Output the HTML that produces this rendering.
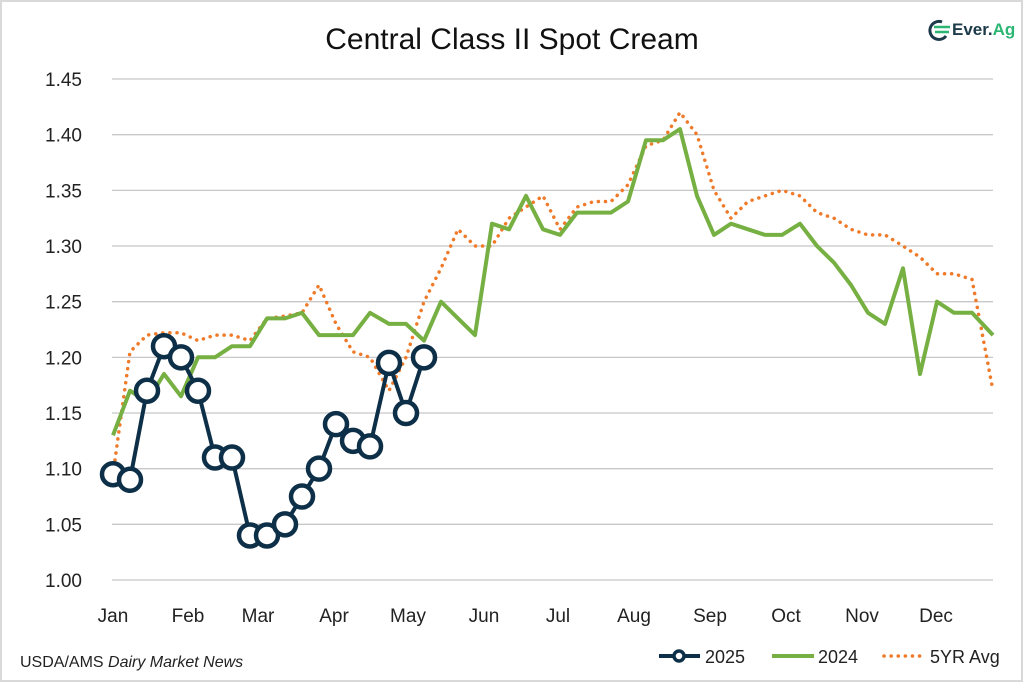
<!DOCTYPE html>
<html><head><meta charset="utf-8"><style>
html,body{margin:0;padding:0;background:#fff}
body{width:1024px;height:683px;overflow:hidden}
text{font-family:"Liberation Sans",sans-serif}
</style></head><body>
<svg id="s" width="1024" height="683" xmlns="http://www.w3.org/2000/svg">
<rect x="1" y="1" width="1021" height="680" fill="#fff" stroke="#d9d9d9" stroke-width="2"/>
<text x="512" y="49" text-anchor="middle" font-size="30" fill="#111">Central Class II Spot Cream</text>
<g>
<path d="M942 22 a9 9 0 1 0 4 14" fill="none" stroke="#1d3a4a" stroke-width="3"/>
<path d="M934 27 h16 M935 32 h14" stroke="#2bb673" stroke-width="2.5"/>
<text x="952" y="35" font-size="17" font-weight="bold" fill="#1d3a4a">Ever.<tspan fill="#2bb673">Ag</tspan></text>
</g>
<g id="grid" stroke="#c8c8c8" stroke-width="1.3"></g>
<g id="ylab" font-size="19" fill="#222" text-anchor="end"></g>
<g id="xlab" font-size="19" fill="#222" text-anchor="middle"></g>
<g id="series"></g>
<text x="20" y="667" font-size="16" fill="#222">USDA/AMS <tspan font-style="italic">Dairy Market News</tspan></text>
<g>
<line x1="659" y1="656" x2="700" y2="656" stroke="#0d3048" stroke-width="4"/>
<circle cx="679" cy="656" r="5" fill="#fff" stroke="#0d3048" stroke-width="3.5"/>
<text x="705" y="663" font-size="18" fill="#222">2025</text>
<line x1="772" y1="656" x2="814" y2="656" stroke="#76b043" stroke-width="4"/>
<text x="818" y="663" font-size="18" fill="#222">2024</text>
<line x1="884" y1="656" x2="925" y2="656" stroke="#ef7a2a" stroke-width="3.5" stroke-dasharray="0.1 7" stroke-linecap="round"/>
<text x="930" y="663" font-size="18" fill="#222">5YR Avg</text>
</g>
</svg>
<script>
var NS="http://www.w3.org/2000/svg";
function Y(v){return 580-(v-1)*1113.3;}
function el(p,t,a,txt){var e=document.createElementNS(NS,t);for(var k in a)e.setAttribute(k,a[k]);if(txt)e.textContent=txt;document.getElementById(p).appendChild(e);return e;}
for(var i=0;i<10;i++){var v=1+i*0.05,y=Y(v);el("grid","line",{x1:112,x2:993,y1:y,y2:y});el("ylab","text",{x:82,y:y+7},v.toFixed(2));}
var mo=["Jan","Feb","Mar","Apr","May","Jun","Jul","Aug","Sep","Oct","Nov","Dec"],mx=[113,188,258,334,408,484,558,634,710,786,862,936];
for(i=0;i<12;i++)el("xlab","text",{x:mx[i],y:622},mo[i]);
var g24=[[113,1.13],[130,1.17],[147,1.16],[164,1.185],[181,1.165],[198,1.20],[215,1.20],[232,1.21],[250,1.21],[267,1.235],[285,1.235],[302,1.24],[319,1.22],[336,1.22],[353,1.22],[370,1.24],[389,1.23],[406,1.23],[424,1.215],[441,1.25],[458,1.235],[475,1.22],[492,1.32],[509,1.315],[526,1.345],[543,1.315],[560,1.31],[577,1.33],[594,1.33],[611,1.33],[628,1.34],[646,1.395],[663,1.395],[680,1.405],[697,1.345],[714,1.31],[731,1.32],[748,1.315],[765,1.31],[782,1.31],[800,1.32],[817,1.30],[834,1.285],[851,1.265],[868,1.24],[885,1.23],[903,1.28],[920,1.185],[937,1.25],[954,1.24],[972,1.24],[993,1.22]];
var a5=[[113,1.095],[130,1.205],[147,1.22],[164,1.222],[181,1.222],[198,1.215],[215,1.22],[232,1.22],[250,1.215],[267,1.235],[285,1.237],[302,1.24],[319,1.265],[336,1.23],[353,1.205],[370,1.20],[389,1.17],[406,1.20],[424,1.25],[441,1.28],[458,1.315],[475,1.30],[492,1.30],[509,1.325],[526,1.335],[543,1.345],[560,1.315],[577,1.335],[594,1.34],[611,1.34],[628,1.355],[646,1.39],[663,1.395],[680,1.42],[697,1.40],[714,1.35],[731,1.325],[748,1.34],[765,1.345],[782,1.35],[800,1.345],[817,1.33],[834,1.325],[851,1.315],[868,1.31],[885,1.31],[903,1.30],[920,1.29],[937,1.275],[954,1.275],[972,1.27],[993,1.17]];
var c25=[[113,1.095],[130,1.09],[147,1.17],[164,1.21],[181,1.20],[198,1.17],[215,1.11],[232,1.11],[250,1.04],[267,1.04],[285,1.05],[302,1.075],[319,1.10],[336,1.14],[353,1.125],[370,1.12],[389,1.195],[406,1.15],[424,1.20]];
function pts(d){return d.map(function(p){return p[0]+","+Y(p[1]).toFixed(1)}).join(" ");}
el("series","polyline",{points:pts(a5),fill:"none",stroke:"#ef7a2a","stroke-width":3.5,"stroke-dasharray":"0.1 7","stroke-linecap":"round"});
el("series","polyline",{points:pts(g24),fill:"none",stroke:"#76b043","stroke-width":4,"stroke-linejoin":"round"});
el("series","polyline",{points:pts(c25),fill:"none",stroke:"#0d3048","stroke-width":4,"stroke-linejoin":"round"});
c25.forEach(function(p){el("series","circle",{cx:p[0],cy:Y(p[1]),r:11,fill:"#fff",stroke:"#0d3048","stroke-width":4.5});});
</script>
</body></html>
